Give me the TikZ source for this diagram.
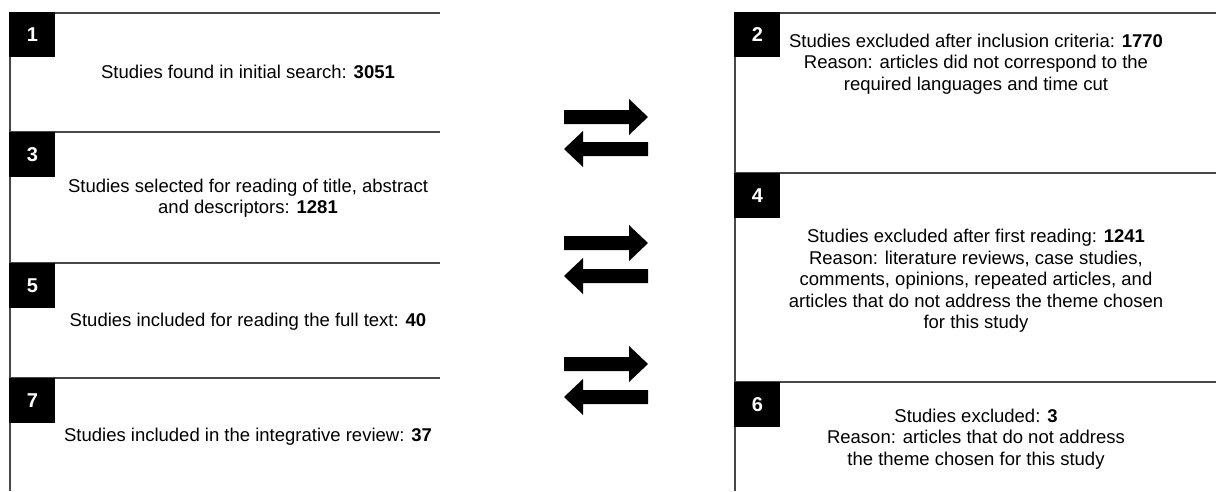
\documentclass[tikz,border=0pt]{standalone}
\usepackage{fontspec}
\setmainfont{Liberation Sans}
\begin{document}
\begin{tikzpicture}[x=1pt,y=-1pt,
  edge/.style={draw=black!72, line width=1.6pt},
  numbox/.style={fill=black, text=white, font=\bfseries\fontsize{20}{20}\selectfont,
    minimum width=46pt, minimum height=45pt, inner sep=0pt, anchor=north west},
  txt/.style={align=center, font=\fontsize{18.5}{21.5}\selectfont, inner sep=0pt},
  blockarrow/.style={fill=black}]
\useasboundingbox (0,0) rectangle (1216,491);
% left column frame
\draw[edge] (10,491) -- (10,13) -- (440,13);
\draw[edge] (10,132) -- (440,132);
\draw[edge] (10,263) -- (440,263);
\draw[edge] (10,378) -- (440,378);
% right column frame
\draw[edge] (735,491) -- (735,13) -- (1216,13);
\draw[edge] (735,173) -- (1216,173);
\draw[edge] (735,382) -- (1216,382);
% number labels
\node[numbox] (n1) at (9.2,12.2) {1};
\node[numbox] (n3) at (9.2,132) {3};
\node[numbox] (n5) at (9.2,263) {5};
\node[numbox] (n7) at (9.2,378) {7};
\node[numbox] (n2) at (734.2,12.2) {2};
\node[numbox] (n4) at (734.2,173) {4};
\node[numbox] (n6) at (734.2,382) {6};
% texts
\node[txt] (t1) at (248,72) {Studies found in initial search: \textbf{3051}};
\node[txt] (t3) at (248,198) {Studies selected for reading of title, abstract\\and descriptors: \textbf{1281}};
\node[txt] (t5) at (248,322) {Studies included for reading the full text: \textbf{40}};
\node[txt] (t7) at (248,437) {Studies included in the integrative review: \textbf{37}};
\node[txt] (t2) at (976,64) {Studies excluded after inclusion criteria: \textbf{1770}\\Reason: articles did not correspond to the\\required languages and time cut};
\node[txt] (t4) at (976,281) {Studies excluded after first reading: \textbf{1241}\\Reason: literature reviews, case studies,\\comments, opinions, repeated articles, and\\articles that do not address the theme chosen\\for this study};
\node[txt] (t6) at (976,439) {Studies excluded: \textbf{3}\\Reason: articles that do not address\\the theme chosen for this study};
% block arrows
\foreach \r/\l in {117/149, 243/276, 364/397}{
  \fill[blockarrow] (564,\r-7) -- (629,\r-7) -- (629,\r-18) -- (648,\r) -- (629,\r+18) -- (629,\r+7) -- (564,\r+7) -- cycle;
  \fill[blockarrow] (648,\l-7) -- (583,\l-7) -- (583,\l-18) -- (564,\l) -- (583,\l+18) -- (583,\l+7) -- (648,\l+7) -- cycle;
}
\end{tikzpicture}
\end{document}
